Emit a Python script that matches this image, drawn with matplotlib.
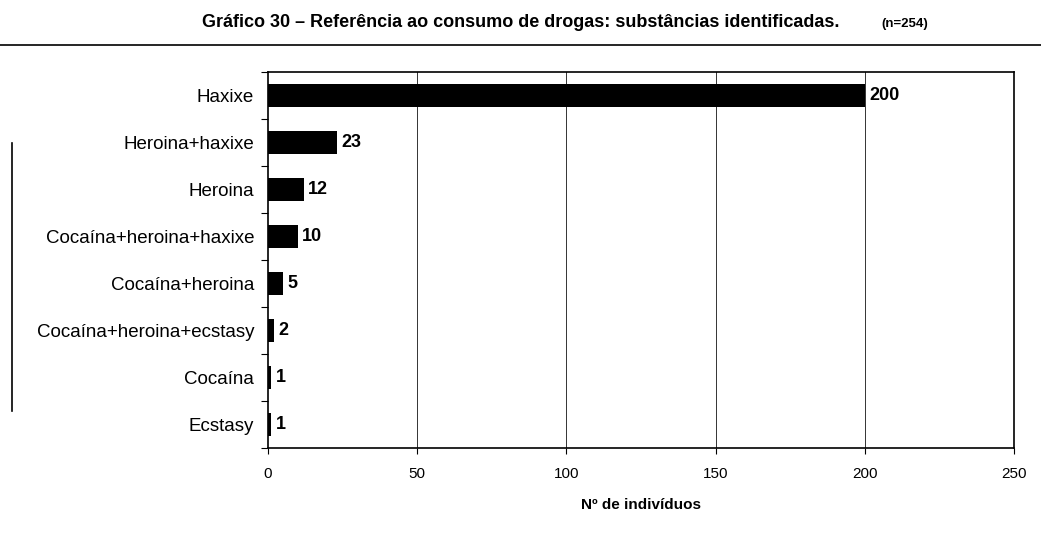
import numpy as np
import matplotlib.pyplot as plt
from matplotlib.lines import Line2D

categorias = ["Haxixe", "Heroina+haxixe", "Heroina", "Cocaína+heroina+haxixe",
              "Cocaína+heroina", "Cocaína+heroina+ecstasy", "Cocaína", "Ecstasy"]
individuos = [200, 23, 12, 10, 5, 2, 1, 1]
x_ticks = [0, 50, 100, 150, 200, 250]

plt.rcParams['font.family'] = ['Liberation Sans', 'DejaVu Sans']

fig = plt.figure(figsize=(10.41, 5.33), dpi=100)
ax = fig.add_axes([0.2574, 0.1595, 0.7166, 0.7055])

y = np.arange(len(categorias))
ax.barh(y, individuos, height=0.5, color="black", zorder=3)
for yi, v in zip(y, individuos):
    ax.text(v + 1.5, yi, str(v), va="center", ha="left",
            fontsize=13, fontweight="bold")

ax.set_xlim(0, 250)
ax.set_ylim(len(categorias) - 0.5, -0.5)
ax.set_yticks(y)
ax.set_yticklabels(categorias, fontsize=13.5)
ax.tick_params(axis="y", length=0, pad=10)
ax.set_yticks(np.arange(len(categorias) + 1) - 0.5, minor=True)
ax.tick_params(axis="y", which="minor", length=5, width=0.8)
ax.set_xticks(x_ticks)
ax.set_xticklabels([str(t) for t in x_ticks], fontsize=11)
ax.tick_params(axis="x", length=4, width=0.8, pad=10)
ax.set_xlabel("Nº de indivíduos", fontsize=11, fontweight="bold", labelpad=12)

for gx in x_ticks[1:-1]:
    ax.axvline(gx, color="#333333", lw=0.7, zorder=1)
for s in ax.spines.values():
    s.set_linewidth(1.2)
    s.set_color("black")

fig.text(0.50, 0.958, "Gráfico 30 – Referência ao consumo de drogas: substâncias identificadas.",
         ha="center", va="center", fontsize=13, fontweight="bold")
fig.text(0.869, 0.955, "(n=254)", ha="center", va="center", fontsize=9.5, fontweight="bold")

# filete sob o título e traço vertical na margem
fig.add_artist(Line2D([0.0, 1.0], [0.915, 0.915], color="black", lw=1.2))
fig.add_artist(Line2D([0.012, 0.012], [0.228, 0.732], color="black", lw=1.2))

fig.savefig("out.png", dpi=100)
